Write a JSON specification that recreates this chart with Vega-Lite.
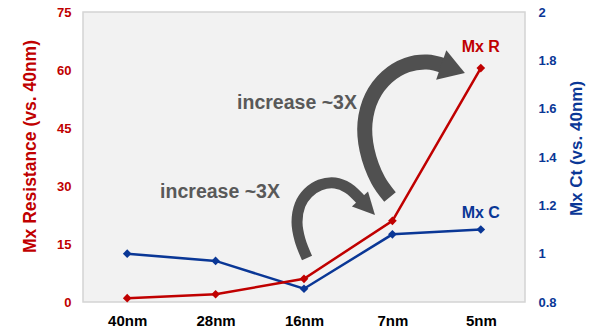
{
  "$schema": "https://vega.github.io/schema/vega-lite/v6.json",
  "width": 442,
  "height": 290,
  "autosize": {"type": "none"},
  "padding": {"left": 83, "top": 12, "right": 65, "bottom": 27},
  "background": "white",
  "config": {
    "font": "Liberation Sans",
    "view": {"fill": "#f2f2f2", "stroke": "#d4d4d4", "strokeWidth": 1.5},
    "axis": {
      "grid": false,
      "ticks": false,
      "tickSize": 0,
      "domain": false,
      "labelFontWeight": "bold",
      "titleFontWeight": "bold"
    }
  },
  "datasets": {
    "nodes": [
      {"node": "40nm", "r": 1.0, "c": 1.0},
      {"node": "28nm", "r": 2.0, "c": 0.97},
      {"node": "16nm", "r": 6.0, "c": 0.855},
      {"node": "7nm", "r": 21.0, "c": 1.08},
      {"node": "5nm", "r": 60.5, "c": 1.1}
    ],
    "arrows": [
      {"arrow": 1, "i": 0, "ax": 2.534, "ay": 11.38},
      {"arrow": 1, "i": 1, "ax": 2.455, "ay": 16.03},
      {"arrow": 1, "i": 2, "ax": 2.421, "ay": 20.69},
      {"arrow": 1, "i": 3, "ax": 2.455, "ay": 25.09},
      {"arrow": 1, "i": 4, "ax": 2.545, "ay": 28.19},
      {"arrow": 1, "i": 5, "ax": 2.681, "ay": 30.26},
      {"arrow": 1, "i": 6, "ax": 2.851, "ay": 30.78},
      {"arrow": 1, "i": 7, "ax": 2.998, "ay": 29.48},
      {"arrow": 1, "i": 8, "ax": 3.167, "ay": 25.86},
      {"arrow": 2, "i": 0, "ax": 3.473, "ay": 27.16},
      {"arrow": 2, "i": 1, "ax": 3.337, "ay": 31.55},
      {"arrow": 2, "i": 2, "ax": 3.213, "ay": 39.31},
      {"arrow": 2, "i": 3, "ax": 3.19, "ay": 46.29},
      {"arrow": 2, "i": 4, "ax": 3.269, "ay": 53.02},
      {"arrow": 2, "i": 5, "ax": 3.439, "ay": 58.19},
      {"arrow": 2, "i": 6, "ax": 3.665, "ay": 61.29},
      {"arrow": 2, "i": 7, "ax": 3.891, "ay": 62.07},
      {"arrow": 2, "i": 8, "ax": 4.095, "ay": 61.03}
    ],
    "heads": [
      {"arrow": 1, "ax": 3.218, "ay": 24.57},
      {"arrow": 2, "ax": 4.186, "ay": 60.26}
    ],
    "notes": [
      {"label": "increase ~3X", "ax": 2.421, "ay": 51.47},
      {"label": "increase ~3X", "ax": 1.55, "ay": 28.45}
    ]
  },
  "layer": [
    {
      "data": {"name": "nodes"},
      "encoding": {
        "x": {
          "field": "node",
          "type": "ordinal",
          "sort": ["40nm", "28nm", "16nm", "7nm", "5nm"],
          "axis": null
        },
        "y": {
          "field": "c",
          "type": "quantitative",
          "scale": {"domain": [0.8, 2], "nice": false, "zero": false},
          "axis": {
            "orient": "right",
            "title": "Mx  Ct (vs. 40nm)",
            "titleColor": "#0a3796",
            "titleFontSize": 17,
            "titleAngle": 270,
            "titlePadding": 29,
            "titleY": 136,
            "labelColor": "#0a3796",
            "labelFontSize": 13,
            "labelPadding": 13,
            "values": [0.8, 1, 1.2, 1.4, 1.6, 1.8, 2],
            "format": "~g"
          }
        }
      },
      "layer": [
        {"mark": {"type": "line", "color": "#0a3796", "strokeWidth": 2.5}},
        {"mark": {"type": "point", "shape": "diamond", "filled": true, "size": 75, "color": "#0a3796", "opacity": 1}},
        {
          "transform": [{"filter": "datum.node == '5nm'"}],
          "mark": {"type": "text", "text": "Mx C", "dy": -17, "fontSize": 16, "fontWeight": "bold", "color": "#0a3796"}
        }
      ]
    },
    {
      "data": {"name": "nodes"},
      "encoding": {
        "x": {
          "field": "node",
          "type": "ordinal",
          "sort": ["40nm", "28nm", "16nm", "7nm", "5nm"],
          "axis": {
            "title": null,
            "labelAngle": 0,
            "labelFontSize": 15,
            "labelColor": "#000000",
            "labelPadding": 11
          }
        },
        "y": {
          "field": "r",
          "type": "quantitative",
          "scale": {"domain": [0, 75], "nice": false},
          "axis": {
            "title": "Mx Resistance (vs. 40nm)",
            "titleColor": "#c00000",
            "titleFontSize": 17.5,
            "titlePadding": 17,
            "titleY": 134,
            "labelColor": "#c00000",
            "labelFontSize": 13,
            "labelPadding": 12,
            "values": [0, 15, 30, 45, 60, 75]
          }
        }
      },
      "layer": [
        {"mark": {"type": "line", "color": "#c00000", "strokeWidth": 2.5}},
        {"mark": {"type": "point", "shape": "diamond", "filled": true, "size": 75, "color": "#c00000", "opacity": 1}},
        {
          "transform": [{"filter": "datum.node == '5nm'"}],
          "mark": {"type": "text", "text": "Mx R", "dy": -21, "fontSize": 16, "fontWeight": "bold", "color": "#c00000"}
        }
      ]
    },
    {
      "encoding": {
        "x": {
          "field": "ax",
          "type": "quantitative",
          "scale": {"domain": [0, 5], "nice": false, "zero": false},
          "axis": null
        },
        "y": {
          "field": "ay",
          "type": "quantitative",
          "scale": {"domain": [0, 75], "nice": false, "zero": false},
          "axis": null
        }
      },
      "layer": [
        {
          "data": {"name": "arrows"},
          "transform": [{"filter": "datum.arrow == 1"}],
          "mark": {"type": "line", "interpolate": "catmull-rom", "strokeWidth": 11, "strokeCap": "butt", "color": "#505050"},
          "encoding": {"order": {"field": "i", "type": "quantitative"}}
        },
        {
          "data": {"name": "arrows"},
          "transform": [{"filter": "datum.arrow == 2"}],
          "mark": {"type": "line", "interpolate": "catmull-rom", "strokeWidth": 15, "strokeCap": "butt", "color": "#505050"},
          "encoding": {"order": {"field": "i", "type": "quantitative"}}
        },
        {
          "data": {"name": "heads"},
          "transform": [{"filter": "datum.arrow == 1"}],
          "mark": {"type": "point", "shape": "M-1,-1L1,0L-1,1Z", "size": 484, "angle": 47, "filled": true, "opacity": 1, "color": "#505050"}
        },
        {
          "data": {"name": "heads"},
          "transform": [{"filter": "datum.arrow == 2"}],
          "mark": {"type": "point", "shape": "M-1,-1.25L1,0L-1,1.25Z", "size": 625, "angle": 19, "filled": true, "opacity": 1, "color": "#505050"}
        },
        {
          "data": {"name": "notes"},
          "mark": {"type": "text", "fontSize": 19.5, "fontWeight": "bold", "color": "#595959", "align": "center", "baseline": "middle"},
          "encoding": {"text": {"field": "label"}}
        }
      ]
    }
  ],
  "resolve": {"scale": {"x": "independent", "y": "independent"}}
}
